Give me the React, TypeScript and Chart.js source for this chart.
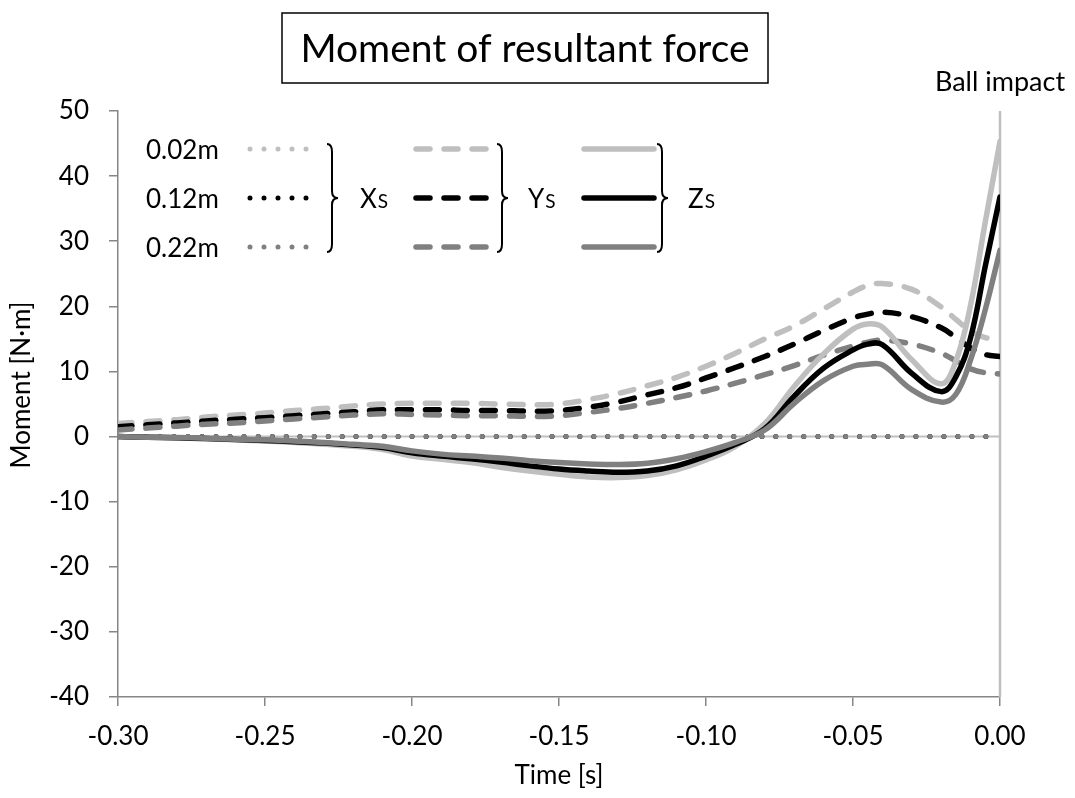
import { useEffect, useRef } from "react";
import { Chart, registerables } from "chart.js";

Chart.register(...registerables);

const FONT = "Lato, 'Open Sans', 'DejaVu Sans', sans-serif";

// Time axis [s] shared by the Y and Z component series
const timeS = [
  -0.3, -0.29, -0.28, -0.27, -0.26, -0.25, -0.24, -0.23, -0.22, -0.21,
  -0.2, -0.19, -0.18, -0.17, -0.16, -0.15, -0.14, -0.13, -0.12, -0.11,
  -0.1, -0.09, -0.08, -0.07, -0.06, -0.05, -0.045, -0.04, -0.03, -0.02,
  -0.015, -0.01, -0.005, 0.0,
];

// Y-component moment [N·m]
const ys002 = [
  2.0, 2.3, 2.6, 3.0, 3.3, 3.6, 4.0, 4.3, 4.7, 5.0,
  5.1, 5.1, 5.1, 5.0, 4.9, 5.0, 5.7, 6.6, 7.8, 9.1,
  10.8, 12.8, 15.0, 17.0, 19.6, 22.2, 23.2, 23.5, 22.6, 19.9,
  18.0, 16.2, 15.2, 15.0,
];
const ys012 = [
  1.5, 1.8, 2.1, 2.4, 2.65, 2.9, 3.2, 3.5, 3.8, 4.1,
  4.1, 4.1, 4.0, 4.0, 3.9, 4.0, 4.5, 5.3, 6.4, 7.5,
  9.0, 10.6, 12.3, 14.2, 16.3, 18.2, 18.8, 19.1, 18.4, 16.7,
  15.2, 13.6, 12.6, 12.3,
];
const ys022 = [
  1.0, 1.3, 1.6, 1.9, 2.1, 2.4, 2.7, 3.0, 3.3, 3.5,
  3.4, 3.3, 3.2, 3.2, 3.1, 3.2, 3.7, 4.3, 5.1, 6.0,
  7.0, 8.2, 9.5, 10.9, 12.5, 13.9, 14.5, 14.8, 14.2, 12.8,
  11.6, 10.4, 9.8, 9.6,
];

// Z-component moment [N·m]
const zs002 = [
  0, -0.1, -0.2, -0.35, -0.5, -0.7, -0.9, -1.2, -1.5, -2.0,
  -3.0, -3.5, -4.0, -4.7, -5.3, -5.8, -6.2, -6.3, -6.0, -5.1,
  -3.6, -1.5, 2.0, 7.7, 12.7, 16.5, 17.3, 16.8, 11.8, 8.1,
  11.6, 20.2, 33.0, 45.3,
];
const zs012 = [
  0, -0.1, -0.2, -0.3, -0.45, -0.6, -0.8, -1.0, -1.3, -1.7,
  -2.5, -3.0, -3.4, -3.9, -4.5, -5.0, -5.3, -5.5, -5.3, -4.5,
  -3.0, -1.2, 1.2, 6.2, 10.5, 13.3, 14.2, 14.1, 9.7, 6.9,
  9.2, 15.2, 26.2, 36.8,
];
const zs022 = [
  0, -0.1, -0.15, -0.25, -0.4, -0.5, -0.7, -0.9, -1.2, -1.5,
  -2.2, -2.7, -3.0, -3.3, -3.7, -4.0, -4.2, -4.3, -4.1, -3.4,
  -2.3, -0.9, 1.0, 5.1, 8.6, 10.8, 11.1, 11.0, 7.2, 5.3,
  6.5, 11.8, 19.5, 28.6,
];

// X-component moment [N·m]
const xsTime = [-0.3, 0.0];
const xs002 = [0, 0];
const xs012 = [0, 0];
const xs022 = [0, 0];

const sizeLabels = ["0.02m", "0.12m", "0.22m"];
const sizeColors = ["#bfbfbf", "#000000", "#808080"];
const componentNames = ["X", "Y", "Z"];

const LINE_W = 5.5;
const DOT_W = 5;

const toPoints = (t: number[], v: number[]) => t.map((x, i) => ({ x, y: v[i] }));

type Style = "dot" | "dash" | "solid";

const styleProps = (style: Style) => {
  if (style === "dot") {
    return { borderWidth: DOT_W, borderDash: [0, 14], borderCapStyle: "round" as const };
  }
  if (style === "dash") {
    return { borderWidth: LINE_W, borderDash: [14, 14], borderCapStyle: "round" as const };
  }
  return { borderWidth: LINE_W, borderDash: [] as number[], borderCapStyle: "round" as const };
};

const seriesDefs: { comp: number; size: number; style: Style; t: number[]; v: number[] }[] = [
  { comp: 0, size: 0, style: "dot", t: xsTime, v: xs002 },
  { comp: 0, size: 1, style: "dot", t: xsTime, v: xs012 },
  { comp: 0, size: 2, style: "dot", t: xsTime, v: xs022 },
  { comp: 1, size: 0, style: "dash", t: timeS, v: ys002 },
  { comp: 1, size: 1, style: "dash", t: timeS, v: ys012 },
  { comp: 1, size: 2, style: "dash", t: timeS, v: ys022 },
  { comp: 2, size: 0, style: "solid", t: timeS, v: zs002 },
  { comp: 2, size: 1, style: "solid", t: timeS, v: zs012 },
  { comp: 2, size: 2, style: "solid", t: timeS, v: zs022 },
];

// Light grey reference lines: zero moment and the impact instant
const referenceLines = {
  id: "referenceLines",
  beforeDatasetsDraw(chart: any) {
    const { ctx, chartArea, scales } = chart;
    const y0 = scales.y.getPixelForValue(0);
    const x0 = scales.x.getPixelForValue(0);
    ctx.save();
    ctx.strokeStyle = "#c0c0c0";
    ctx.lineWidth = 2;
    ctx.beginPath();
    ctx.moveTo(chartArea.left, y0);
    ctx.lineTo(chartArea.right, y0);
    ctx.stroke();
    ctx.lineWidth = 2.5;
    ctx.beginPath();
    ctx.moveTo(x0, chartArea.top);
    ctx.lineTo(x0, chartArea.bottom);
    ctx.stroke();
    ctx.restore();
  },
};

const drawBrace = (ctx: CanvasRenderingContext2D, x: number, top: number, bottom: number) => {
  const mid = (top + bottom) / 2;
  ctx.beginPath();
  ctx.moveTo(x, top);
  ctx.quadraticCurveTo(x + 5, top, x + 5, top + 8);
  ctx.lineTo(x + 5, mid - 7);
  ctx.quadraticCurveTo(x + 5, mid, x + 11, mid);
  ctx.quadraticCurveTo(x + 5, mid, x + 5, mid + 7);
  ctx.lineTo(x + 5, bottom - 8);
  ctx.quadraticCurveTo(x + 5, bottom, x, bottom);
  ctx.stroke();
};

// Title box, impact label, axis title and the grouped line-style key
const annotations = {
  id: "annotations",
  afterDraw(chart: any) {
    const { ctx, scales } = chart;
    ctx.save();

    // title
    ctx.strokeStyle = "#000";
    ctx.lineWidth = 1.5;
    ctx.strokeRect(282, 13, 486, 70);
    ctx.fillStyle = "#000";
    ctx.font = `39px ${FONT}`;
    ctx.textAlign = "center";
    ctx.textBaseline = "middle";
    ctx.fillText("Moment of resultant force", 525, 49);

    // impact marker label
    ctx.font = `27px ${FONT}`;
    ctx.fillText("Ball impact", scales.x.getPixelForValue(0), 82);

    // y axis title
    ctx.font = `26px ${FONT}`;
    ctx.save();
    ctx.translate(22, 385);
    ctx.rotate(-Math.PI / 2);
    ctx.fillText("Moment [N\u00B7m]", 0, 0);
    ctx.restore();

    // key
    const rows = [149, 198, 247];
    const sampleX = [
      [250, 308],
      [416, 486],
      [584, 654],
    ];
    const braceX = [327, 497, 657];
    const compX = [360, 528, 688];

    ctx.textAlign = "left";
    ctx.textBaseline = "alphabetic";
    ctx.font = `26px ${FONT}`;
    sizeLabels.forEach((lab, i) => ctx.fillText(lab, 146, rows[i] + 9.5));

    chart.data.datasets.forEach((ds: any) => {
      const [x1, x2] = sampleX[ds.comp];
      const yRow = rows[ds.size];
      ctx.save();
      ctx.strokeStyle = ds.borderColor;
      ctx.lineWidth = ds.borderWidth;
      ctx.lineCap = ds.borderCapStyle;
      ctx.setLineDash(ds.borderDash);
      ctx.beginPath();
      ctx.moveTo(x1, yRow);
      ctx.lineTo(x2, yRow);
      ctx.stroke();
      ctx.restore();
    });

    ctx.strokeStyle = "#000";
    ctx.lineWidth = 2;
    ctx.setLineDash([]);
    braceX.forEach((bx, i) => {
      drawBrace(ctx, bx, rows[0] - 5, rows[2] + 5);
      ctx.font = `26px ${FONT}`;
      ctx.fillText(componentNames[i], compX[i], rows[1] + 9.5);
      const w = ctx.measureText(componentNames[i]).width;
      ctx.font = `19px ${FONT}`;
      ctx.fillText("S", compX[i] + w + 1, rows[1] + 9.5);
    });

    ctx.restore();
  },
};

export default function App() {
  const canvasRef = useRef<HTMLCanvasElement | null>(null);

  useEffect(() => {
    if (!canvasRef.current) return;
    const datasets = seriesDefs.map((s, i) => ({
      label: `${componentNames[s.comp]}S ${sizeLabels[s.size]}`,
      comp: s.comp,
      size: s.size,
      data: toPoints(s.t, s.v),
      borderColor: sizeColors[s.size],
      backgroundColor: sizeColors[s.size],
      ...styleProps(s.style),
      borderJoinStyle: "round",
      pointRadius: 0,
      fill: false,
      tension: 0.4,
      order: seriesDefs.length - i,
    }));

    const axisGrey = "#868686";
    const chart = new Chart(canvasRef.current, {
      type: "line",
      data: { datasets: datasets as any },
      options: {
        responsive: false,
        animation: false,
        devicePixelRatio: 1,
        events: [],
        layout: { padding: { left: 0, top: 111, right: 75, bottom: 0 } },
        plugins: { legend: { display: false }, tooltip: { enabled: false } },
        scales: {
          x: {
            type: "linear",
            min: -0.3,
            max: 0,
            afterFit: (scale: any) => {
              scale.height = 101;
            },
            ticks: {
              stepSize: 0.05,
              color: "#000",
              font: { family: FONT, size: 26 },
              padding: 15,
              maxRotation: 0,
              callback: (v: any) => {
                const n = Number(v);
                return (Math.abs(n) < 1e-9 ? 0 : n).toFixed(2);
              },
            },
            grid: { drawOnChartArea: false, drawTicks: true, tickLength: 9, color: axisGrey, lineWidth: 1.5 },
            border: { display: true, color: axisGrey, width: 1.5 },
            title: {
              display: true,
              text: "Time [s]",
              color: "#000",
              font: { family: FONT, size: 26 },
              padding: { top: 0, bottom: 7 },
            },
          },
          y: {
            type: "linear",
            min: -40,
            max: 50,
            afterFit: (scale: any) => {
              scale.width = 118;
            },
            ticks: {
              stepSize: 10,
              color: "#000",
              font: { family: FONT, size: 26 },
              padding: 20,
            },
            grid: { drawOnChartArea: false, drawTicks: true, tickLength: 9, color: axisGrey, lineWidth: 1.5 },
            border: { display: true, color: axisGrey, width: 1.5 },
          },
        },
      },
      plugins: [referenceLines, annotations],
    });
    return () => chart.destroy();
  }, []);

  return (
    <div style={{ position: "absolute", left: 0, top: 0, width: 1075, height: 798, background: "#fff" }}>
      <canvas ref={canvasRef} width={1075} height={798} style={{ display: "block" }} />
    </div>
  );
}
